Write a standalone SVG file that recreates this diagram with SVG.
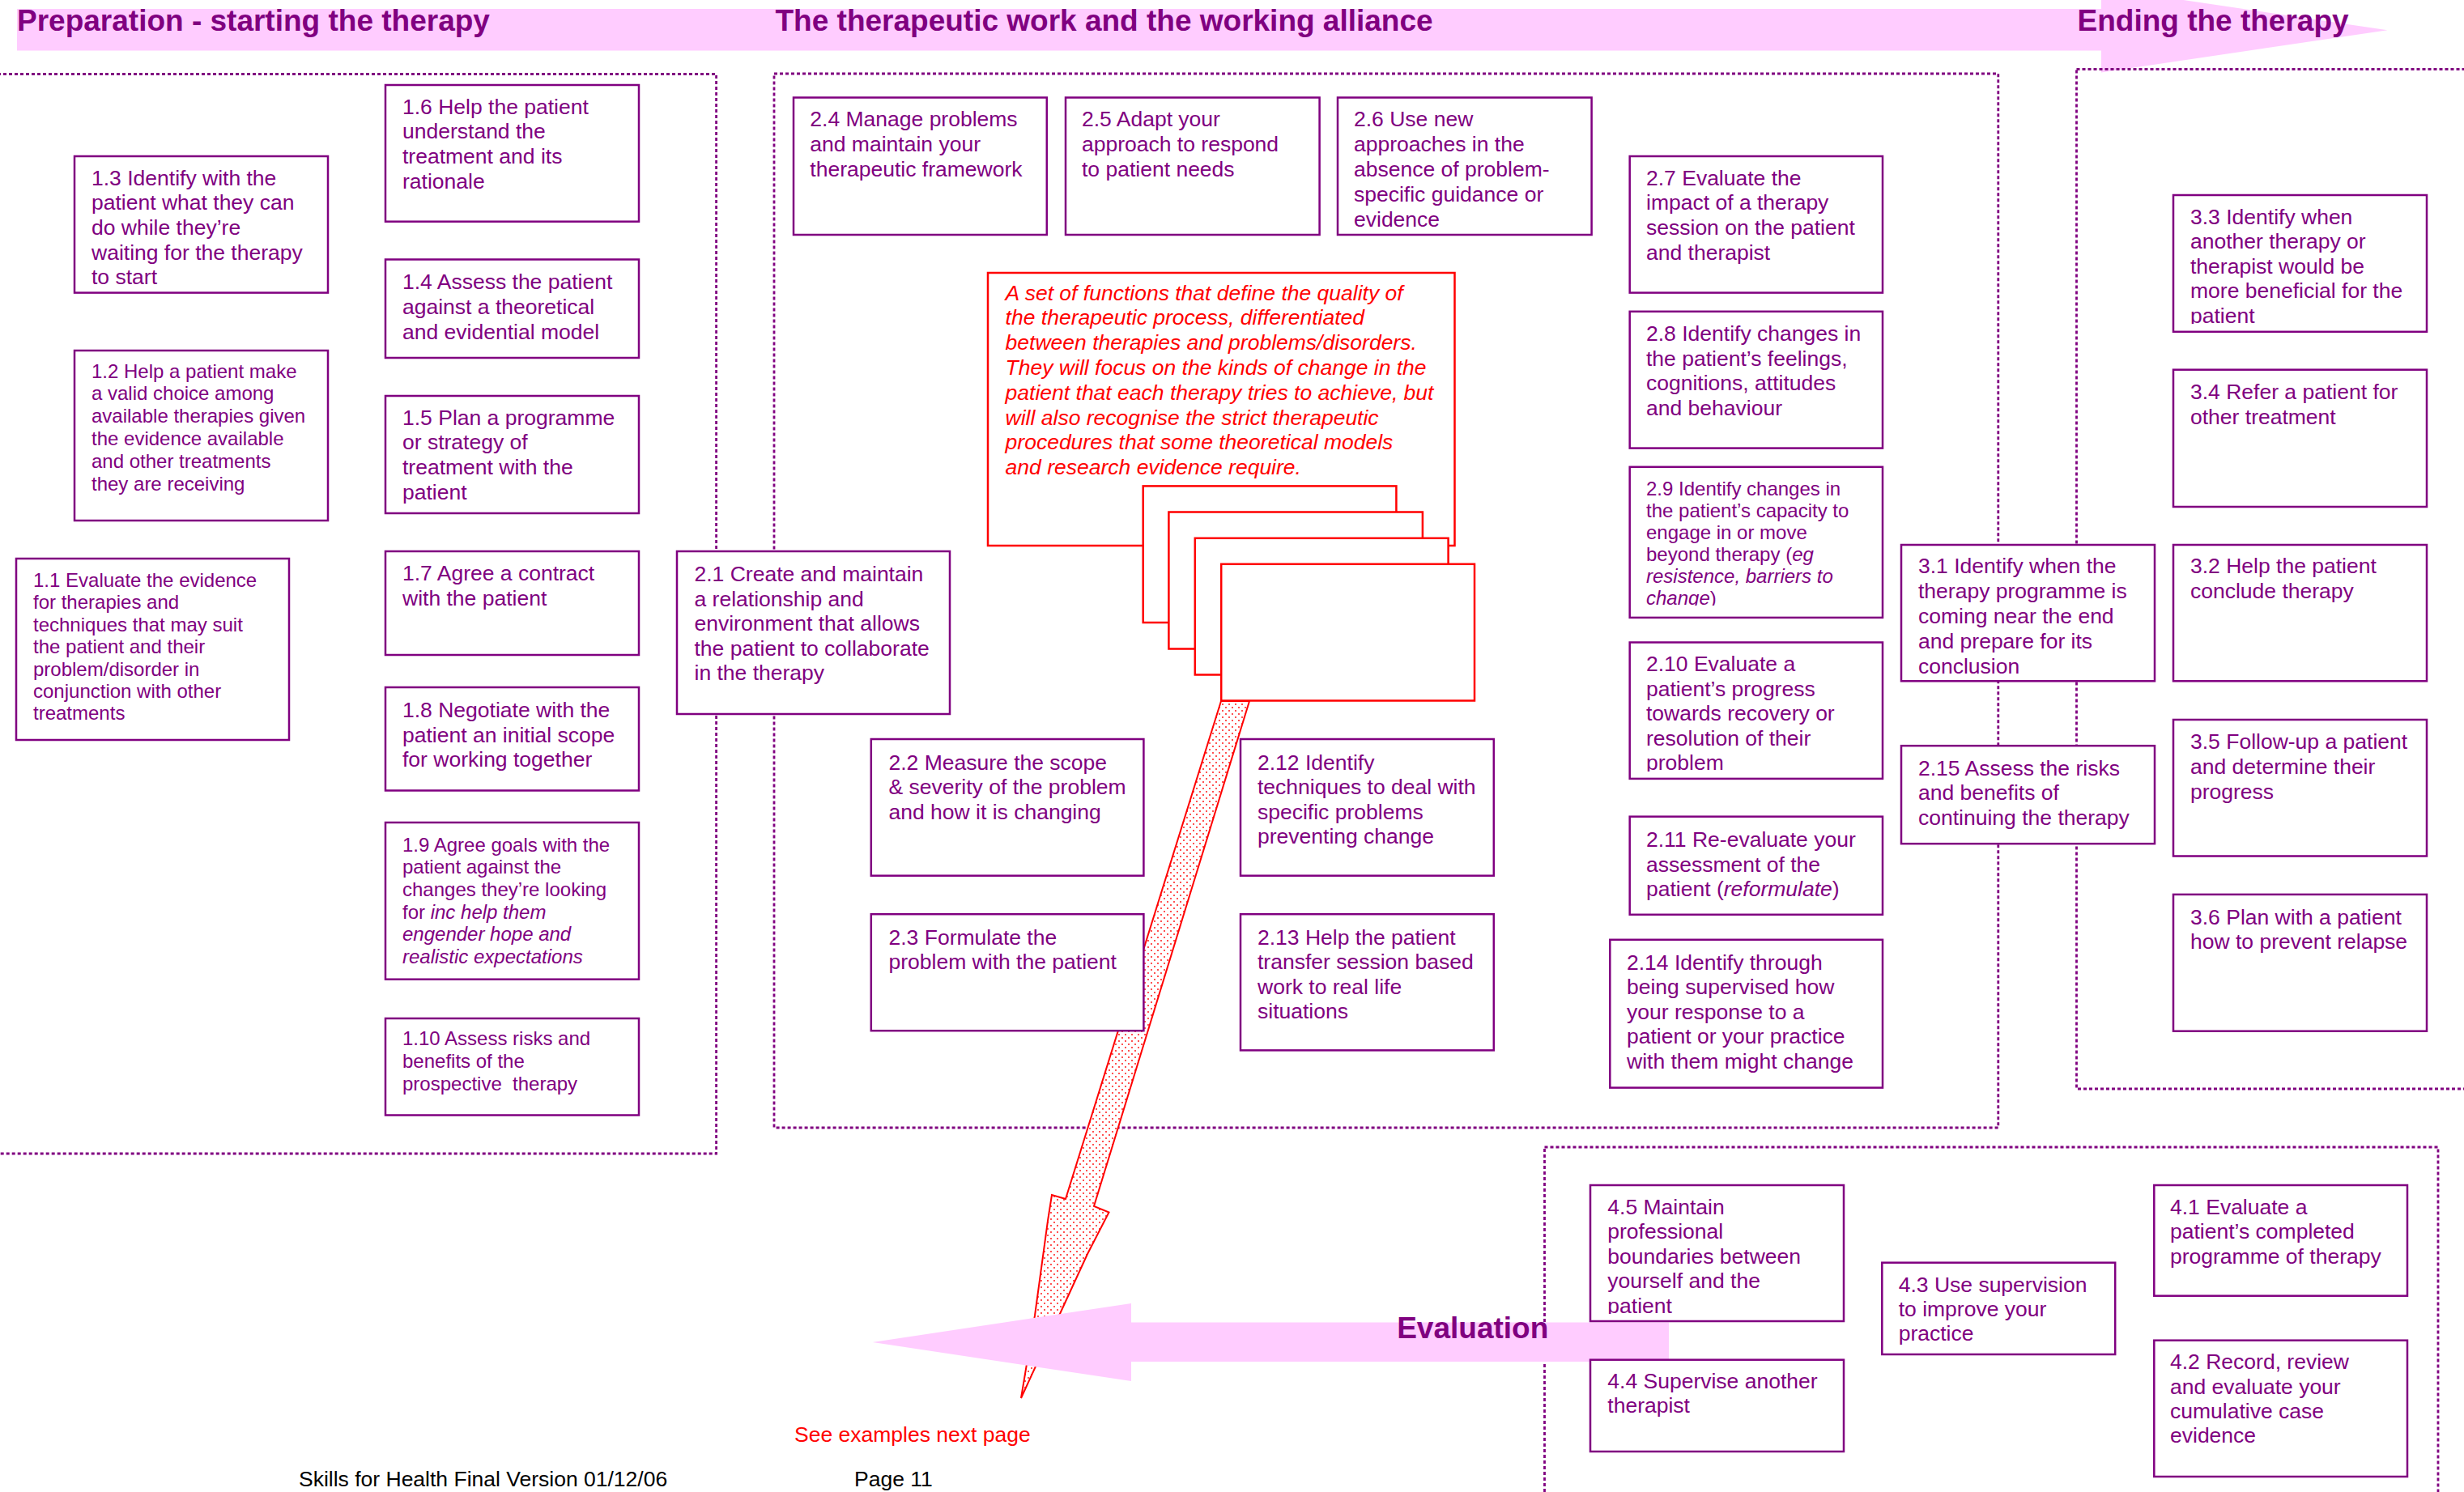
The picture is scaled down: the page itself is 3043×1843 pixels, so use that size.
<svg xmlns="http://www.w3.org/2000/svg" width="3043" height="1843" viewBox="0 0 3043 1843">
<style>
.bg{fill:#fff}
.band{fill:#FFCCFF}
.dotbox{fill:none;stroke:#800080;stroke-width:2.8;stroke-dasharray:4 3}
.n rect{fill:#fff;stroke:#800080;stroke-width:2.5}
text{font-family:"Liberation Sans",Arial,sans-serif;font-size:26.5px;fill:#800080;white-space:pre}
.s{font-size:24px}
.h{font-weight:bold;font-size:37px}
.i{font-style:italic}
.red{fill:#FF0000}
.rbox{fill:#fff;stroke:#FF0000;stroke-width:2.5}
.foot{fill:#000}
</style>
<defs>
<pattern id="dots" width="8" height="8" patternUnits="userSpaceOnUse">
<rect width="8" height="8" fill="#fff"/>
<circle cx="2" cy="2" r="0.9" fill="#FF0000"/>
<circle cx="6" cy="6" r="0.9" fill="#FF0000"/>
</pattern>
<clipPath id="c26"><rect x="1652" y="120" width="314" height="160"/></clipPath>
<clipPath id="c29"><rect x="2012" y="576" width="314" height="172"/></clipPath>
<clipPath id="c210"><rect x="2012" y="793" width="314" height="160"/></clipPath>
<clipPath id="c33"><rect x="2684" y="241" width="314" height="159"/></clipPath>
<clipPath id="c45"><rect x="1964" y="1464" width="314" height="159"/></clipPath>
</defs>
<rect class="bg" x="0" y="0" width="3043" height="1843"/>

<g id="header">
<polygon class="band" points="21,11 2595,11 2595,-15 2948.5,37.3 2595,89.5 2595,62.5 21,62.5"/>
<text class="h" x="21" y="38">Preparation - starting the therapy</text>
<text class="h" x="957.5" y="38">The therapeutic work and the working alliance</text>
<text class="h" x="2565.5" y="38">Ending the therapy</text>
</g>

<g id="sections">
<rect class="dotbox" x="-10" y="91.5" width="894.6" height="1333.5"/>
<rect class="dotbox" x="956" y="91" width="1511.8" height="1302"/>
<rect class="dotbox" x="2564.5" y="85.5" width="500" height="1259.5"/>
<rect class="dotbox" x="1907.5" y="1417" width="1103.5" height="450"/>
</g>

<g id="red-note">
<rect class="rbox" x="1220" y="337" width="576.5" height="337"/>
<text class="i red"><tspan x="1241.6" y="370.5">A set of functions that define the quality of</tspan><tspan x="1241.6" y="401.3">the therapeutic process, differentiated</tspan><tspan x="1241.6" y="432.1">between therapies and problems/disorders.</tspan><tspan x="1241.6" y="462.9">They will focus on the kinds of change in the</tspan><tspan x="1241.6" y="493.7">patient that each therapy tries to achieve, but</tspan><tspan x="1241.6" y="524.5">will also recognise the strict therapeutic</tspan><tspan x="1241.6" y="555.3">procedures that some theoretical models</tspan><tspan x="1241.6" y="586.1">and research evidence require.</tspan></text>
</g>

<g id="connectors">
<polygon points="1508,866 1316,1481 1299,1476 1294,1508 1278,1625 1261,1727 1308,1625 1343,1549 1369.5,1497.5 1351,1490 1543,866" fill="url(#dots)" stroke="#FF0000" stroke-width="2"/>
<polygon class="band" points="1077.7,1658 1397,1610 1397,1633.4 2061,1633.4 2061,1682 1397,1682 1397,1706"/>
</g>

<g id="stack">
<rect class="rbox" x="1411.7" y="600.4" width="312.7" height="168.6"/>
<rect class="rbox" x="1443.4" y="632.5" width="313.5" height="169"/>
<rect class="rbox" x="1475.8" y="664.8" width="312.8" height="168.7"/>
<rect class="rbox" x="1508.2" y="696.8" width="312.8" height="168.7"/>
</g>

<g id="evaluation-label"><text class="h" x="1725.2" y="1652.5">Evaluation</text></g>

<g id="n1-6" class="n"><rect x="476" y="105" width="313" height="168.7"/>
<text><tspan x="497" y="140.5">1.6 Help the patient</tspan><tspan x="497" y="171.3">understand the</tspan><tspan x="497" y="202.1">treatment and its</tspan><tspan x="497" y="232.9">rationale</tspan></text></g>

<g id="n1-3" class="n"><rect x="92" y="193" width="313" height="168.6"/>
<text><tspan x="113" y="228.6">1.3 Identify with the</tspan><tspan x="113" y="259.3">patient what they can</tspan><tspan x="113" y="290">do while they’re</tspan><tspan x="113" y="320.7">waiting for the therapy</tspan><tspan x="113" y="351.4">to start</tspan></text></g>

<g id="n1-4" class="n"><rect x="476" y="320.5" width="313" height="121.5"/>
<text><tspan x="497" y="357">1.4 Assess the patient</tspan><tspan x="497" y="387.8">against a theoretical</tspan><tspan x="497" y="418.6">and evidential model</tspan></text></g>

<g id="n1-2" class="n"><rect x="92" y="433" width="313" height="210"/>
<text class="s"><tspan x="113" y="466.5">1.2 Help a patient make</tspan><tspan x="113" y="494.4">a valid choice among</tspan><tspan x="113" y="522.3">available therapies given</tspan><tspan x="113" y="550.2">the evidence available</tspan><tspan x="113" y="578.1">and other treatments</tspan><tspan x="113" y="606">they are receiving</tspan></text></g>

<g id="n1-5" class="n"><rect x="476" y="489" width="313" height="145"/>
<text><tspan x="497" y="524.5">1.5 Plan a programme</tspan><tspan x="497" y="555.3">or strategy of</tspan><tspan x="497" y="586.1">treatment with the</tspan><tspan x="497" y="616.9">patient</tspan></text></g>

<g id="n1-1" class="n"><rect x="20" y="690" width="337" height="224"/>
<text class="s"><tspan x="41" y="725">1.1 Evaluate the evidence</tspan><tspan x="41" y="752.4">for therapies and</tspan><tspan x="41" y="779.8">techniques that may suit</tspan><tspan x="41" y="807.2">the patient and their</tspan><tspan x="41" y="834.6">problem/disorder in</tspan><tspan x="41" y="862">conjunction with other</tspan><tspan x="41" y="889.4">treatments</tspan></text></g>

<g id="n1-7" class="n"><rect x="476" y="681" width="313" height="128"/>
<text><tspan x="497" y="717.3">1.7 Agree a contract</tspan><tspan x="497" y="748">with the patient</tspan></text></g>

<g id="n1-8" class="n"><rect x="476" y="849" width="313" height="127.5"/>
<text><tspan x="497" y="886">1.8 Negotiate with the</tspan><tspan x="497" y="916.7">patient an initial scope</tspan><tspan x="497" y="947.4">for working together</tspan></text></g>

<g id="n1-9" class="n"><rect x="476" y="1016" width="313" height="193.7"/>
<text class="s"><tspan x="497" y="1051.5">1.9 Agree goals with the</tspan><tspan x="497" y="1079.2">patient against the</tspan><tspan x="497" y="1106.8">changes they’re looking</tspan><tspan x="497" y="1134.5">for <tspan class="i">inc help them</tspan></tspan><tspan x="497" y="1162.1" class="i">engender hope and</tspan><tspan x="497" y="1189.8" class="i">realistic expectations</tspan></text></g>

<g id="n1-10" class="n"><rect x="476" y="1258" width="313" height="119.5"/>
<text class="s"><tspan x="497" y="1290.8">1.10 Assess risks and</tspan><tspan x="497" y="1318.9">benefits of the</tspan><tspan x="497" y="1347">prospective  therapy</tspan></text></g>

<g id="n2-1" class="n"><rect x="836" y="681" width="337" height="201"/>
<text><tspan x="857.5" y="718.1">2.1 Create and maintain</tspan><tspan x="857.5" y="748.6">a relationship and</tspan><tspan x="857.5" y="779.1">environment that allows</tspan><tspan x="857.5" y="809.6">the patient to collaborate</tspan><tspan x="857.5" y="840.1">in the therapy</tspan></text></g>

<g id="n2-4" class="n"><rect x="980" y="120.5" width="312.8" height="169.5"/>
<text><tspan x="1000.3" y="156">2.4 Manage problems</tspan><tspan x="1000.3" y="187">and maintain your</tspan><tspan x="1000.3" y="218">therapeutic framework</tspan></text></g>

<g id="n2-5" class="n"><rect x="1316" y="120.5" width="313.6" height="169.5"/>
<text><tspan x="1336" y="156">2.5 Adapt your</tspan><tspan x="1336" y="187">approach to respond</tspan><tspan x="1336" y="218">to patient needs</tspan></text></g>

<g id="n2-6" class="n"><rect x="1652" y="120.5" width="313.6" height="169.5"/>
<text clip-path="url(#c26)"><tspan x="1672" y="156">2.6 Use new</tspan><tspan x="1672" y="187">approaches in the</tspan><tspan x="1672" y="218">absence of problem-</tspan><tspan x="1672" y="249">specific guidance or</tspan><tspan x="1672" y="280">evidence</tspan></text></g>

<g id="n2-2" class="n"><rect x="1075.8" y="913" width="336.6" height="168.7"/>
<text><tspan x="1097.5" y="950.8">2.2 Measure the scope</tspan><tspan x="1097.5" y="981.3">&amp; severity of the problem</tspan><tspan x="1097.5" y="1011.8">and how it is changing</tspan></text></g>

<g id="n2-3" class="n"><rect x="1075.8" y="1129.2" width="336.6" height="144"/>
<text><tspan x="1097.5" y="1166.5">2.3 Formulate the</tspan><tspan x="1097.5" y="1197">problem with the patient</tspan></text></g>

<g id="n2-12" class="n"><rect x="1532" y="913" width="312.8" height="168.7"/>
<text><tspan x="1553" y="950.8">2.12 Identify</tspan><tspan x="1553" y="981.3">techniques to deal with</tspan><tspan x="1553" y="1011.8">specific problems</tspan><tspan x="1553" y="1042.3">preventing change</tspan></text></g>

<g id="n2-13" class="n"><rect x="1532" y="1129.2" width="312.8" height="168.2"/>
<text><tspan x="1553" y="1166.5">2.13 Help the patient</tspan><tspan x="1553" y="1197">transfer session based</tspan><tspan x="1553" y="1227.5">work to real life</tspan><tspan x="1553" y="1258">situations</tspan></text></g>

<g id="n2-7" class="n"><rect x="2012.7" y="193" width="312.3" height="168.6"/>
<text><tspan x="2033" y="228.6">2.7 Evaluate the</tspan><tspan x="2033" y="259.3">impact of a therapy</tspan><tspan x="2033" y="290">session on the patient</tspan><tspan x="2033" y="320.7">and therapist</tspan></text></g>

<g id="n2-8" class="n"><rect x="2012.7" y="384.8" width="312.3" height="168.8"/>
<text><tspan x="2033" y="421">2.8 Identify changes in</tspan><tspan x="2033" y="451.5">the patient’s feelings,</tspan><tspan x="2033" y="482">cognitions, attitudes</tspan><tspan x="2033" y="512.5">and behaviour</tspan></text></g>

<g id="n2-9" class="n"><rect x="2012.7" y="576.8" width="312.3" height="186.1"/>
<text class="s" clip-path="url(#c29)"><tspan x="2033" y="611.5">2.9 Identify changes in</tspan><tspan x="2033" y="638.5">the patient’s capacity to</tspan><tspan x="2033" y="665.5">engage in or move</tspan><tspan x="2033" y="692.5">beyond therapy (<tspan class="i">eg</tspan></tspan><tspan x="2033" y="719.5" class="i">resistence, barriers to</tspan><tspan x="2033" y="746.5"><tspan class="i">change</tspan>)</tspan></text></g>

<g id="n2-10" class="n"><rect x="2012.7" y="793.5" width="312.3" height="168.4"/>
<text clip-path="url(#c210)"><tspan x="2033" y="829.4">2.10 Evaluate a</tspan><tspan x="2033" y="859.9">patient’s progress</tspan><tspan x="2033" y="890.4">towards recovery or</tspan><tspan x="2033" y="920.9">resolution of their</tspan><tspan x="2033" y="951.4">problem</tspan></text></g>

<g id="n2-11" class="n"><rect x="2012.7" y="1008.7" width="312.3" height="121.1"/>
<text><tspan x="2033" y="1046">2.11 Re-evaluate your</tspan><tspan x="2033" y="1076.5">assessment of the</tspan><tspan x="2033" y="1107">patient (<tspan class="i">reformulate</tspan>)</tspan></text></g>

<g id="n2-14" class="n"><rect x="1988.3" y="1160.8" width="336.7" height="182.8"/>
<text><tspan x="2009" y="1197.7">2.14 Identify through</tspan><tspan x="2009" y="1228.2">being supervised how</tspan><tspan x="2009" y="1258.7">your response to a</tspan><tspan x="2009" y="1289.2">patient or your practice</tspan><tspan x="2009" y="1319.7">with them might change</tspan></text></g>

<g id="n2-15" class="n"><rect x="2348" y="921.2" width="313" height="121"/>
<text><tspan x="2369" y="957.5">2.15 Assess the risks</tspan><tspan x="2369" y="988">and benefits of</tspan><tspan x="2369" y="1018.5">continuing the therapy</tspan></text></g>

<g id="n3-1" class="n"><rect x="2348" y="673" width="313" height="168.3"/>
<text><tspan x="2369" y="708.4">3.1 Identify when the</tspan><tspan x="2369" y="739.2">therapy programme is</tspan><tspan x="2369" y="770">coming near the end</tspan><tspan x="2369" y="800.8">and prepare for its</tspan><tspan x="2369" y="831.6">conclusion</tspan></text></g>

<g id="n3-3" class="n"><rect x="2684" y="241" width="313" height="168.8"/>
<text clip-path="url(#c33)"><tspan x="2705" y="276.8">3.3 Identify when</tspan><tspan x="2705" y="307.3">another therapy or</tspan><tspan x="2705" y="337.8">therapist would be</tspan><tspan x="2705" y="368.3">more beneficial for the</tspan><tspan x="2705" y="398.8">patient</tspan></text></g>

<g id="n3-4" class="n"><rect x="2684" y="456.7" width="313" height="169.3"/>
<text><tspan x="2705" y="493.3">3.4 Refer a patient for</tspan><tspan x="2705" y="523.6">other treatment</tspan></text></g>

<g id="n3-2" class="n"><rect x="2684" y="673" width="313" height="168.3"/>
<text><tspan x="2705" y="708.4">3.2 Help the patient</tspan><tspan x="2705" y="739.2">conclude therapy</tspan></text></g>

<g id="n3-5" class="n"><rect x="2684" y="889" width="313" height="168.5"/>
<text><tspan x="2705" y="925">3.5 Follow-up a patient</tspan><tspan x="2705" y="956">and determine their</tspan><tspan x="2705" y="987">progress</tspan></text></g>

<g id="n3-6" class="n"><rect x="2684" y="1104.9" width="313" height="168.8"/>
<text><tspan x="2705" y="1141.7">3.6 Plan with a patient</tspan><tspan x="2705" y="1172">how to prevent relapse</tspan></text></g>

<g id="n4-5" class="n"><rect x="1964" y="1464" width="313" height="168"/>
<text clip-path="url(#c45)"><tspan x="1985.3" y="1499.7">4.5 Maintain</tspan><tspan x="1985.3" y="1530.2">professional</tspan><tspan x="1985.3" y="1560.7">boundaries between</tspan><tspan x="1985.3" y="1591.2">yourself and the</tspan><tspan x="1985.3" y="1621.7">patient</tspan></text></g>

<g id="n4-4" class="n"><rect x="1964" y="1679.7" width="313" height="113.3"/>
<text><tspan x="1985.3" y="1714.7">4.4 Supervise another</tspan><tspan x="1985.3" y="1744.9">therapist</tspan></text></g>

<g id="n4-3" class="n"><rect x="2324.3" y="1559.7" width="287.9" height="113.3"/>
<text><tspan x="2344.7" y="1595.7">4.3 Use supervision</tspan><tspan x="2344.7" y="1626">to improve your</tspan><tspan x="2344.7" y="1656.3">practice</tspan></text></g>

<g id="n4-1" class="n"><rect x="2660.3" y="1464" width="312.7" height="136.7"/>
<text><tspan x="2680" y="1499.7">4.1 Evaluate a</tspan><tspan x="2680" y="1530.2">patient’s completed</tspan><tspan x="2680" y="1560.7">programme of therapy</tspan></text></g>

<g id="n4-2" class="n"><rect x="2660.3" y="1655.7" width="312.7" height="168.3"/>
<text><tspan x="2680" y="1691.3">4.2 Record, review</tspan><tspan x="2680" y="1721.6">and evaluate your</tspan><tspan x="2680" y="1751.9">cumulative case</tspan><tspan x="2680" y="1782.2">evidence</tspan></text></g>

<g id="notes">
<text class="red" x="981" y="1781">See examples next page</text>
<text class="foot" x="369" y="1836">Skills for Health Final Version 01/12/06</text>
<text class="foot" x="1055" y="1836">Page 11</text>
</g>
</svg>
